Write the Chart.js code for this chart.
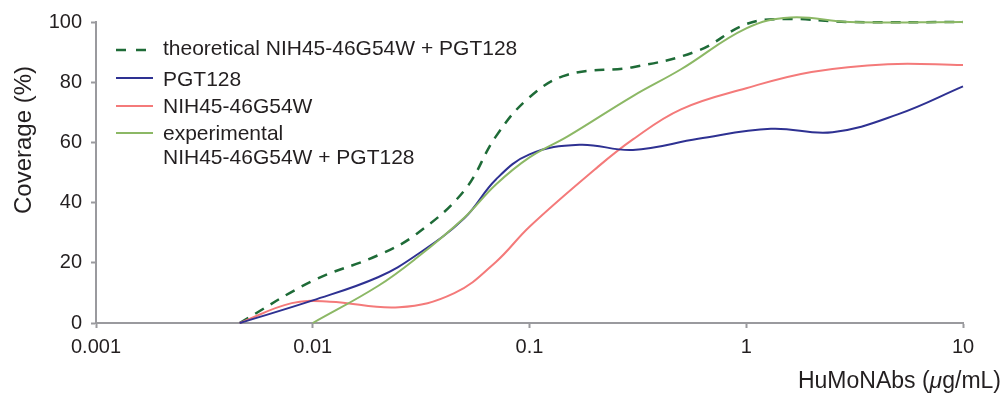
<!DOCTYPE html>
<html>
<head>
<meta charset="utf-8">
<script src="https://cdn.jsdelivr.net/npm/chart.js@4/dist/chart.umd.min.js"></script>
<style>
  html, body { margin: 0; background: #fff; }
  #wrap { width: 1004px; height: 398px; }
</style>
</head>
<body>
<div id="wrap"><canvas id="myChart"></canvas></div>
<script>
// doses in ug/mL, coverage in %
let theoDoses = [0.0046, 0.01, 0.02, 0.03, 0.05, 0.07, 0.1, 0.15, 0.3, 0.6, 1, 1.5, 3, 10];
let theoretical = [0, 14, 22.5, 29.5, 44, 62, 75, 82.5, 85, 90.5, 99.3, 101, 100, 100];

let pgtDoses = [0.0046, 0.01, 0.02, 0.03, 0.05, 0.07, 0.1, 0.17, 0.3, 0.6, 1.3, 2.5, 5, 10];
let pgt128 = [0, 7.5, 15.2, 22.5, 34.8, 47.7, 56, 59.2, 57.5, 61.2, 64.5, 63.4, 69.3, 78.6];

let nihDoses = [0.0046, 0.008, 0.012, 0.025, 0.045, 0.07, 0.1, 0.2, 0.3, 0.5, 1, 2, 4.5, 10];
let nih = [0, 6.6, 7.1, 5.2, 9.9, 20.3, 32, 51, 61, 71, 78, 83.4, 86, 85.7];

let expDoses = [0.01, 0.02, 0.03, 0.05, 0.07, 0.1, 0.15, 0.3, 0.5, 1, 1.6, 3, 10];
let experimental = [0, 12.3, 21.5, 35, 46, 55, 62, 75.4, 84.3, 97.9, 101.5, 100, 100];

let xTicks = [0.001, 0.01, 0.1, 1, 10];
let xTickLabels = ['0.001', '0.01', '0.1', '1', '10'];

let labels = ['theoretical NIH45-46G54W + PGT128', 'PGT128', 'NIH45-46G54W', ['experimental', 'NIH45-46G54W + PGT128']];
let colors = ['#1e6b37', '#2e3192', '#f47a7a', '#8cb865'];

let axisGray = '#9a9a9e';
let textColor = '#231f20';
let fontName = '"Liberation Sans", Arial, sans-serif';

function pts(xs, ys) {
  return xs.map((d, i) => ({ x: d, y: ys[i] }));
}

// legend + axis titles drawn by hand
let extras = {
  id: 'extras',
  afterDraw(chart) {
    let ctx = chart.ctx;
    ctx.save();
    ctx.fillStyle = textColor;
    ctx.textAlign = 'left';
    ctx.textBaseline = 'alphabetic';
    ctx.font = '21px ' + fontName;
    let lineY = [50, 78, 106, 133];
    let textY = [55, 86, 113, 140];
    chart.data.datasets.forEach((ds, i) => {
      ctx.beginPath();
      ctx.strokeStyle = ds.borderColor;
      ctx.lineWidth = ds.borderWidth;
      ctx.setLineDash(ds.borderDash ? [10, 10] : []);
      ctx.moveTo(116, lineY[i]);
      ctx.lineTo(153, lineY[i]);
      ctx.stroke();
      let lab = labels[i];
      if (Array.isArray(lab)) {
        lab.forEach((t, j) => ctx.fillText(t, 163, textY[i] + j * 24));
      } else {
        ctx.fillText(lab, 163, textY[i]);
      }
    });
    ctx.setLineDash([]);

    // y title
    ctx.save();
    ctx.translate(24, 140);
    ctx.rotate(-Math.PI / 2);
    ctx.textAlign = 'center';
    ctx.textBaseline = 'middle';
    ctx.font = '24px ' + fontName;
    ctx.fillText('Coverage (%)', 0, 0);
    ctx.restore();

    // x title, right aligned, italic mu
    let normal = '23px ' + fontName;
    let italic = 'italic 23px ' + fontName;
    let parts = [['HuMoNAbs (', normal], ['\u03bc', italic], ['g/mL)', normal]];
    let total = 0;
    parts.forEach(p => { ctx.font = p[1]; total += ctx.measureText(p[0]).width; });
    let x = 1001 - total;
    parts.forEach(p => {
      ctx.font = p[1];
      ctx.fillText(p[0], x, 388);
      x += ctx.measureText(p[0]).width;
    });
    ctx.restore();
  }
};

let myChart = document.getElementById('myChart').getContext('2d');

let chart = new Chart(myChart, {
  type: 'line',
  data: {
    datasets: [
      {
        label: 'theoretical NIH45-46G54W + PGT128',
        data: pts(theoDoses, theoretical),
        borderColor: colors[0],
        borderWidth: 2.5,
        borderDash: [10, 8],
        order: 3
      },
      {
        label: 'PGT128',
        data: pts(pgtDoses, pgt128),
        borderColor: colors[1],
        borderWidth: 2,
        order: 1
      },
      {
        label: 'NIH45-46G54W',
        data: pts(nihDoses, nih),
        borderColor: colors[2],
        borderWidth: 2,
        order: 2
      },
      {
        label: 'experimental NIH45-46G54W + PGT128',
        data: pts(expDoses, experimental),
        borderColor: colors[3],
        borderWidth: 2,
        order: 0
      }
    ]
  },
  options: {
    responsive: true,
    maintainAspectRatio: false,
    animation: false,
    layout: { padding: { top: 22, right: 41, left: 0, bottom: 0 } },
    datasets: { line: { clip: false } },
    elements: {
      point: { radius: 0 },
      line: { tension: 0.4, fill: false }
    },
    plugins: {
      legend: { display: false },
      tooltip: { enabled: false }
    },
    scales: {
      x: {
        type: 'logarithmic',
        min: 0.001,
        max: 10,
        afterBuildTicks: s => { s.ticks = xTicks.map(v => ({ value: v })); },
        afterFit: s => { s.height = 75; },
        ticks: {
          color: textColor,
          font: { family: fontName, size: 20 },
          padding: 7,
          maxRotation: 0,
          autoSkip: false,
          callback: (v, i) => xTickLabels[i]
        },
        grid: { drawOnChartArea: false, tickLength: 5, tickColor: axisGray, tickWidth: 2 },
        border: { color: axisGray, width: 2 }
      },
      y: {
        min: 0,
        max: 100,
        afterFit: s => { s.width = 96; },
        ticks: {
          stepSize: 20,
          color: textColor,
          font: { family: fontName, size: 20 },
          padding: 9
        },
        grid: { drawOnChartArea: false, tickLength: 5, tickColor: axisGray, tickWidth: 2 },
        border: { color: axisGray, width: 2 }
      }
    }
  },
  plugins: [extras]
});
</script>
</body>
</html>
